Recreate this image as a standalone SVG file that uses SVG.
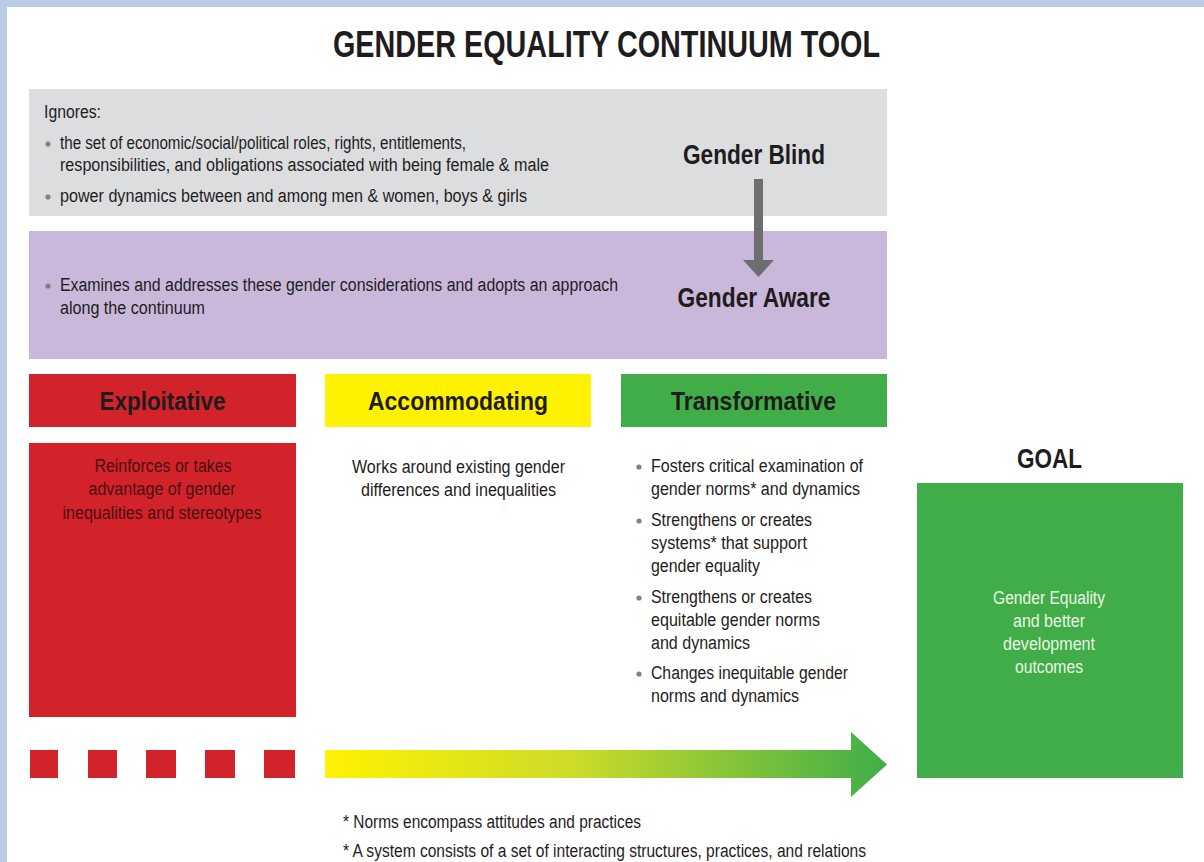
<svg xmlns="http://www.w3.org/2000/svg" width="1204" height="862" viewBox="0 0 1204 862">
  <defs>
    <linearGradient id="contGrad" x1="325" y1="0" x2="887" y2="0" gradientUnits="userSpaceOnUse">
      <stop offset="0" stop-color="#fff200"/>
      <stop offset="0.45" stop-color="#cbdb2a"/>
      <stop offset="1" stop-color="#3fae49"/>
    </linearGradient>
  </defs>
  <style>
    text { font-family: "Liberation Sans Narrow", "Liberation Sans", Arial, sans-serif; fill: #1f1c1d; }
    .title { font-size: 37px; font-weight: bold; }
    .body { font-size: 18px; }
    .head { font-size: 26px; font-weight: bold; text-anchor: middle; }
    .big { font-size: 27px; font-weight: bold; text-anchor: middle; }
    .mid { text-anchor: middle; }
    .dark { fill: #4a1012; }
    .light { fill: #eaf5e4; }
    .dot { fill: #7f8184; }
  </style>

  <rect x="0" y="0" width="1204" height="862" fill="#ffffff"/>
  <rect x="0" y="0" width="1204" height="7" fill="#b8cce4"/>
  <rect x="0" y="0" width="7" height="862" fill="#b8cce4"/>

  <text class="title" x="333" y="57" textLength="547" lengthAdjust="spacingAndGlyphs">GENDER EQUALITY CONTINUUM TOOL</text>

  <g id="gender-blind">
    <rect x="29" y="89" width="858" height="127" fill="#dcdddf"/>
    <text class="body" x="44" y="118" textLength="57" lengthAdjust="spacingAndGlyphs">Ignores:</text>
    <circle class="dot" cx="48" cy="144" r="2.6"/>
    <text class="body" x="60" y="149" textLength="406" lengthAdjust="spacingAndGlyphs">the set of economic/social/political roles, rights, entitlements,</text>
    <text class="body" x="60" y="171" textLength="489" lengthAdjust="spacingAndGlyphs">responsibilities, and obligations associated with being female &amp; male</text>
    <circle class="dot" cx="48" cy="197" r="2.6"/>
    <text class="body" x="60" y="202" textLength="467" lengthAdjust="spacingAndGlyphs">power dynamics between and among men &amp; women, boys &amp; girls</text>
    <text class="big" x="754" y="164" textLength="142" lengthAdjust="spacingAndGlyphs">Gender Blind</text>
  </g>

  <g id="gender-aware">
    <rect x="29" y="231" width="858" height="128" fill="#cab8db"/>
    <circle class="dot" cx="48" cy="286" r="2.6"/>
    <text class="body" x="60" y="291" textLength="558" lengthAdjust="spacingAndGlyphs">Examines and addresses these gender considerations and adopts an approach</text>
    <text class="body" x="60" y="314" textLength="145" lengthAdjust="spacingAndGlyphs">along the continuum</text>
    <text class="big" x="754" y="307" textLength="153" lengthAdjust="spacingAndGlyphs">Gender Aware</text>
  </g>

  <g id="connectors">
    <path d="M754,179 H763 V260 H774 L758.5,277 L743,260 H754 Z" fill="#6d6e70"/>
    <path d="M325,750 H851 V732 L887,764.5 L851,797 V778 H325 Z" fill="url(#contGrad)"/>
    <g fill="#d2232a">
      <rect x="30" y="750" width="28" height="28"/>
      <rect x="88" y="750" width="29" height="28"/>
      <rect x="146" y="750" width="30" height="28"/>
      <rect x="205" y="750" width="30" height="28"/>
      <rect x="264" y="750" width="31" height="28"/>
    </g>
  </g>

  <g id="exploitative">
    <rect x="29" y="374" width="267" height="53" fill="#d2232a"/>
    <text class="head" x="162.5" y="410" textLength="126" lengthAdjust="spacingAndGlyphs">Exploitative</text>
    <rect x="29" y="443" width="267" height="274" fill="#d2232a"/>
    <text class="body mid dark" x="163" y="472" textLength="137" lengthAdjust="spacingAndGlyphs">Reinforces or takes</text>
    <text class="body mid dark" x="162" y="495" textLength="147" lengthAdjust="spacingAndGlyphs">advantage of gender</text>
    <text class="body mid dark" x="162" y="519" textLength="199" lengthAdjust="spacingAndGlyphs">inequalities and stereotypes</text>
  </g>

  <g id="accommodating">
    <rect x="325" y="374" width="266" height="53" fill="#fff200"/>
    <text class="head" x="458" y="410" textLength="180" lengthAdjust="spacingAndGlyphs">Accommodating</text>
    <text class="body mid" x="458.5" y="473" textLength="213" lengthAdjust="spacingAndGlyphs">Works around existing gender</text>
    <text class="body mid" x="458.5" y="496" textLength="195" lengthAdjust="spacingAndGlyphs">differences and inequalities</text>
  </g>

  <g id="transformative">
    <rect x="621" y="374" width="266" height="53" fill="#41ad49"/>
    <text class="head" x="753.5" y="410" textLength="165" lengthAdjust="spacingAndGlyphs">Transformative</text>
    <circle class="dot" cx="639" cy="467" r="2.6"/>
    <text class="body" x="651" y="472" textLength="212" lengthAdjust="spacingAndGlyphs">Fosters critical examination of</text>
    <text class="body" x="651" y="495" textLength="209" lengthAdjust="spacingAndGlyphs">gender norms* and dynamics</text>
    <circle class="dot" cx="639" cy="521" r="2.6"/>
    <text class="body" x="651" y="526" textLength="161" lengthAdjust="spacingAndGlyphs">Strengthens or creates</text>
    <text class="body" x="651" y="549" textLength="156" lengthAdjust="spacingAndGlyphs">systems* that support</text>
    <text class="body" x="651" y="572" textLength="109" lengthAdjust="spacingAndGlyphs">gender equality</text>
    <circle class="dot" cx="639" cy="598" r="2.6"/>
    <text class="body" x="651" y="603" textLength="161" lengthAdjust="spacingAndGlyphs">Strengthens or creates</text>
    <text class="body" x="651" y="626" textLength="169" lengthAdjust="spacingAndGlyphs">equitable gender norms</text>
    <text class="body" x="651" y="649" textLength="99" lengthAdjust="spacingAndGlyphs">and dynamics</text>
    <circle class="dot" cx="639" cy="674" r="2.6"/>
    <text class="body" x="651" y="679" textLength="197" lengthAdjust="spacingAndGlyphs">Changes inequitable gender</text>
    <text class="body" x="651" y="702" textLength="148" lengthAdjust="spacingAndGlyphs">norms and dynamics</text>
  </g>

  <g id="goal">
    <text class="big" x="1049.5" y="468" textLength="65" lengthAdjust="spacingAndGlyphs">GOAL</text>
    <rect x="917" y="483" width="266" height="295" fill="#41ad49"/>
    <text class="body mid light" x="1049" y="604" textLength="112" lengthAdjust="spacingAndGlyphs">Gender Equality</text>
    <text class="body mid light" x="1049" y="627" textLength="72" lengthAdjust="spacingAndGlyphs">and better</text>
    <text class="body mid light" x="1049" y="650" textLength="92" lengthAdjust="spacingAndGlyphs">development</text>
    <text class="body mid light" x="1049" y="673" textLength="68" lengthAdjust="spacingAndGlyphs">outcomes</text>
  </g>

  <g id="footnotes">
    <text class="body" x="343" y="828" textLength="298" lengthAdjust="spacingAndGlyphs">* Norms encompass attitudes and practices</text>
    <text class="body" x="343" y="857" textLength="523" lengthAdjust="spacingAndGlyphs">* A system consists of a set of interacting structures, practices, and relations</text>
  </g>
</svg>
